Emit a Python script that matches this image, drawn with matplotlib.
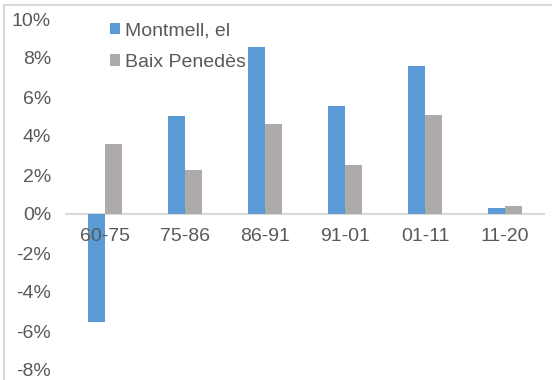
import numpy as np
import matplotlib.pyplot as plt
from matplotlib.ticker import FuncFormatter
from matplotlib.lines import Line2D

# données
periodes = ["60-75", "75-86", "86-91", "91-01", "01-11", "11-20"]
montmell = [-5.55, 5.03, 8.56, 5.54, 7.6, 0.31]
baix_penedes = [3.6, 2.26, 4.6, 2.5, 5.08, 0.41]

plt.rcParams['font.family'] = ['Liberation Sans', 'DejaVu Sans']

fig = plt.figure(figsize=(5.52, 3.8), dpi=100)
ax = fig.add_axes([65/552, 10/380, 480/552, 351/380])

x = np.arange(len(periodes))
w = 0.215
ax.bar(x - w/2, montmell, w, color="#5B9BD5", label="Montmell, el")
ax.bar(x + w/2, baix_penedes, w, color="#AEAAAA", label="Baix Penedès")

ax.set_xlim(-0.5, len(periodes) - 0.5)
ax.set_ylim(-8, 10)
ax.set_yticks(range(-8, 11, 2))
ax.yaxis.set_major_formatter(FuncFormatter(lambda v, p: f"{v:.0f}%"))
ax.axhline(0, color="#D9D9D9", linewidth=1.5, zorder=0)

for s in ax.spines.values():
    s.set_visible(False)
ax.tick_params(axis='both', length=0, labelsize=14, colors="#595959")
ax.tick_params(axis='y', pad=10)
ax.set_xticks([])
for i, lab in enumerate(periodes):
    ax.text(i, -1.15, lab, ha='center', va='center', fontsize=14, color="#595959")

ax.legend(loc="upper left", bbox_to_anchor=(92/552, 1 - 5/380), bbox_transform=fig.transFigure,
          frameon=False, fontsize=14, labelcolor="#595959", handlelength=0.55, handleheight=0.55,
          handletextpad=0.25, labelspacing=0.75)

# bordure du graphique
fig.add_artist(Line2D([4/552, 1], [1 - 5/380, 1 - 5/380], color="#D9D9D9", linewidth=1.5))
fig.add_artist(Line2D([4/552, 4/552], [0, 1 - 5/380], color="#D9D9D9", linewidth=1.5))

fig.savefig("out.png", dpi=100)
